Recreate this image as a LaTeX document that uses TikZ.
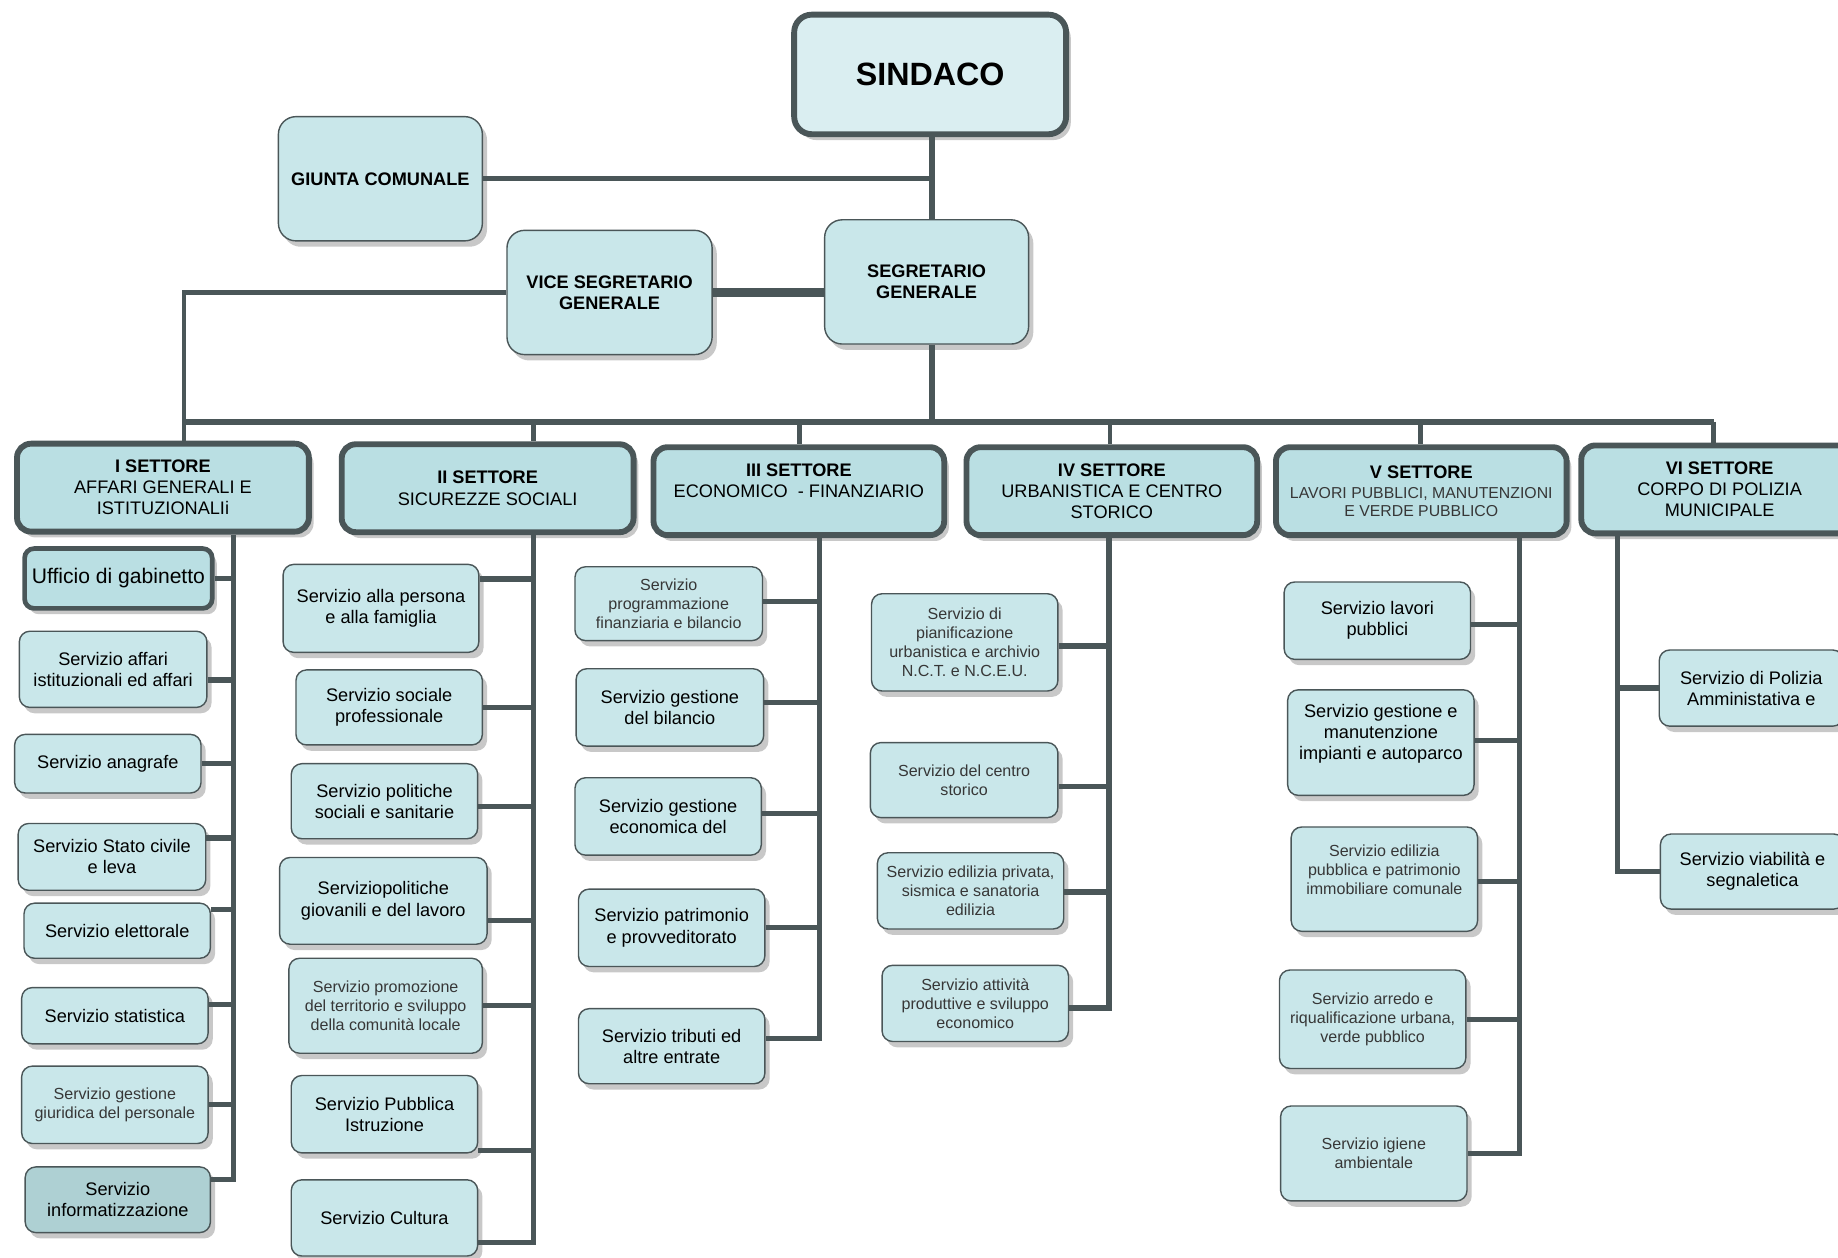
\documentclass[tikz,border=0pt]{standalone}
\usepackage{fontspec}
\setmainfont{Liberation Sans}
\usetikzlibrary{shadows}
\definecolor{linec}{RGB}{74,86,88}
\definecolor{subfill}{RGB}{201,231,234}
\definecolor{settfill}{RGB}{186,223,227}
\definecolor{topfill}{RGB}{218,238,241}
\definecolor{darkfill}{RGB}{174,208,211}
\definecolor{shadowc}{RGB}{200,200,200}
\definecolor{smalltext}{RGB}{55,55,55}
\begin{document}
\begin{tikzpicture}[x=1pt,y=-1pt,
  box/.style={draw=linec, line width=1.2pt, rounded corners=9pt, fill=subfill, align=center, inner sep=1pt,
    general shadow={fill=shadowc, shadow xshift=4pt, shadow yshift=-5pt}},
  svc/.style={box, font=\fontsize{15.5}{18}\selectfont},
  svcsm/.style={box, font=\fontsize{13.7}{16}\selectfont, text=smalltext},
  settbox/.style={box, line width=5pt, fill=settfill, rounded corners=12pt, minimum height=75pt, font=\fontsize{15.5}{18}\selectfont},
  topbox/.style={box, fill=subfill, rounded corners=15pt, font=\bfseries\fontsize{15.5}{18}\selectfont},
  link/.style={draw=linec, line width=4.5pt},
  sz/.style 2 args={minimum width=#1pt, minimum height=#2pt},
]
\useasboundingbox (0,0) rectangle (1568,1073);
\clip (0,0) rectangle (1568,1073);

% ---------- top level ----------
\node[topbox, line width=5pt, fill=topfill, sz={232}{102}, font=\bfseries\fontsize{27.5}{32}\selectfont] (sind) at (793.5,63.5) {SINDACO};
\node[topbox, sz={174}{106}] (giunta) at (324.5,152.5) {GIUNTA COMUNALE};
\node[topbox, sz={175}{106}] (vice) at (520,249.5) {VICE SEGRETARIO\\GENERALE};
\node[topbox, sz={174}{106}] (segr) at (790.5,240.5) {SEGRETARIO\\GENERALE};

% ---------- settori ----------
\node[settbox, minimum width=249pt] (s1) at (139,416) {\textbf{I SETTORE}\\AFFARI GENERALI E\\ISTITUZIONALIi};
\node[settbox, minimum width=249pt] (s2) at (416,416.5) {\textbf{II SETTORE}\\SICUREZZE SOCIALI};
\node[settbox, minimum width=248pt] (s3) at (681.5,419) {\textbf{III SETTORE}\\ECONOMICO\ \ - FINANZIARIO\\\mbox{}};
\node[settbox, minimum width=248pt] (s4) at (948.5,419) {\textbf{IV SETTORE}\\URBANISTICA E CENTRO\\STORICO};
\node[settbox, minimum width=248pt] (s5) at (1212.5,419) {\textbf{V SETTORE}\\[-1pt]{\fontsize{13.5}{16}\selectfont\color{smalltext}LAVORI PUBBLICI, MANUTENZIONI}\\[-2pt]{\fontsize{13.5}{16}\selectfont\color{smalltext}E VERDE PUBBLICO}};
\node[settbox, minimum width=236pt] (s6) at (1467,417.5) {\textbf{VI SETTORE}\\CORPO DI POLIZIA\\MUNICIPALE};

% ---------- I settore ----------
\node[svc, line width=4pt, fill=settfill, rounded corners=8pt, sz={160}{51}, font=\fontsize{18}{21}\selectfont] (c11) at (101,493.5) {Ufficio di gabinetto};
\node[svc, sz={160}{65}] (c12) at (96.5,571) {Servizio affari\\istituzionali ed affari};
\node[svc, sz={159}{50}] (c13) at (92,651.5) {Servizio anagrafe};
\node[svc, sz={160}{57}] (c14) at (95.5,731) {Servizio Stato civile\\e leva};
\node[svc, sz={159}{47}] (c15) at (100,794) {Servizio elettorale};
\node[svc, sz={159}{48}] (c16) at (98,866.5) {Servizio statistica};
\node[svcsm, sz={159}{66}] (c17) at (98,942.5) {Servizio gestione\\giuridica del personale};
\node[svc, fill=darkfill, sz={158}{56}] (c18) at (100.5,1023.5) {Servizio\\informatizzazione};

% ---------- II settore ----------
\node[svc, sz={167}{75}] (c21) at (325,519) {Servizio alla persona\\e alla famiglia};
\node[svc, sz={159}{64}] (c22) at (332,603.5) {Servizio sociale\\professionale};
\node[svc, sz={159}{64}] (c23) at (328,683.5) {Servizio politiche\\sociali e sanitarie};
\node[svc, sz={177}{74}] (c24) at (327,768.5) {Serviziopolitiche\\giovanili e del lavoro};
\node[svcsm, sz={165}{81}] (c25) at (329,858) {Servizio promozione\\del territorio e sviluppo\\della comunità locale};
\node[svc, sz={159}{66}] (c26) at (328,950.5) {Servizio Pubblica\\Istruzione};
\node[svc, sz={159}{65}] (c27) at (328,1039) {Servizio Cultura};

% ---------- III settore ----------
\node[svcsm, sz={160}{63}] (c31) at (570.5,515) {Servizio\\programmazione\\finanziaria e bilancio};
\node[svc, sz={160}{66}] (c32) at (571.5,603.5) {Servizio gestione\\del bilancio};
\node[svc, sz={159}{66}] (c33) at (570,696.5) {Servizio gestione\\economica del};
\node[svc, sz={159}{66}] (c34) at (573,791.5) {Servizio patrimonio\\e provveditorato};
\node[svc, sz={159}{64}] (c35) at (573,892.5) {Servizio tributi ed\\altre entrate};

% ---------- IV settore ----------
\node[svcsm, sz={159}{83}] (c41) at (823,548) {Servizio di\\pianificazione\\urbanistica e archivio\\N.C.T. e N.C.E.U.};
\node[svcsm, sz={160}{64}] (c42) at (822.5,665.5) {Servizio del centro\\storico};
\node[svcsm, sz={159}{65}] (c43) at (828,760) {Servizio edilizia privata,\\sismica e sanatoria\\edilizia};
\node[svcsm, sz={159}{65}] (c44) at (832,856) {Servizio attività\\produttive e sviluppo\\economico};

% ---------- V settore ----------
\node[svc, sz={159}{66}] (c51) at (1175,529.5) {Servizio lavori\\pubblici};
\node[svc, sz={159}{90}] (c52) at (1178,633.5) {Servizio gestione e\\manutenzione\\impianti e autoparco\\\mbox{}};
\node[svcsm, sz={159}{89}] (c53) at (1181,750) {Servizio edilizia\\pubblica e patrimonio\\immobiliare comunale\\\mbox{}};
\node[svcsm, sz={159}{84}] (c54) at (1171,869.5) {Servizio arredo e\\riqualificazione urbana,\\verde pubblico};
\node[svcsm, sz={159}{81}] (c55) at (1172,984) {Servizio igiene\\ambientale};

% ---------- VI settore ----------
\node[svc, sz={157}{65}] (c61) at (1494,587) {Servizio di Polizia\\Amministativa e};
\node[svc, sz={157}{64}] (c62) at (1495,743.5) {Servizio viabilità e\\segnaletica};

% ---------- coordinates ----------
\coordinate (tx) at (795,0);
\coordinate (b1) at (157,360);
\coordinate (b2) at (455,360);
\coordinate (b3) at (682,360);
\coordinate (b4) at (947,360);
\coordinate (b5) at (1212,360);
\coordinate (b6) at (1462,360);
\coordinate (t1) at (199,0);
\coordinate (t2) at (455,0);
\coordinate (t3) at (699,0);
\coordinate (t4) at (946,0);
\coordinate (t5) at (1296,0);
\coordinate (t6) at (1380,0);

% ---------- top connectors ----------
\draw[link] (sind.south -| tx) -- (segr.north -| tx);
\draw[link] (giunta.east) -- (giunta.east -| tx);
\draw[link, line width=7pt] (vice.east) -- (segr.west |- vice.east);
\draw[link, line width=4pt] (vice.west) -| (b1) -- (s1.north -| b1);
\draw[link] (segr.south -| tx) -- (tx |- b1);
\draw[link] (b1) -- (b6);
\foreach \k in {2,...,6} \draw[link, line width=4pt] (b\k) -- (s\k.north -| b\k);

% ---------- trunks ----------
\draw[link] (s1.south -| t1) |- ([yshift=17.5pt]c18.east);
\draw[link] (s2.south -| t2) |- ([yshift=-21pt]c27.east);
\draw[link] (s3.south -| t3) |- ([yshift=6.5pt]c35.east);
\draw[link] (s4.south -| t4) |- ([yshift=-4pt]c44.east);
\draw[link] (s5.south -| t5) |- (c55.east);
\draw[link] (s6.south -| t6) |- (c62.west);

% ---------- branches ----------
\draw[link] (c11.east) -- (c11.east -| t1);
\draw[link] ([yshift=-9pt]c12.east) -- ([yshift=-9pt]c12.east -| t1);
\draw[link] (c13.east) -- (c13.east -| t1);
\draw[link] ([yshift=16pt]c14.east) -- ([yshift=16pt]c14.east -| t1);
\draw[link] ([yshift=18pt]c15.east) -- ([yshift=18pt]c15.east -| t1);
\draw[link] ([yshift=9.5pt]c16.east) -- ([yshift=9.5pt]c16.east -| t1);
\draw[link] (c17.east) -- (c17.east -| t1);

\draw[link] ([yshift=25pt]c21.east) -- ([yshift=25pt]c21.east -| t2);
\draw[link] (c22.east) -- (c22.east -| t2);
\draw[link] ([yshift=-4.5pt]c23.east) -- ([yshift=-4.5pt]c23.east -| t2);
\draw[link] ([yshift=-16.5pt]c24.east) -- ([yshift=-16.5pt]c24.east -| t2);
\draw[link] (c25.east) -- (c25.east -| t2);
\draw[link] ([yshift=-31pt]c26.east) -- ([yshift=-31pt]c26.east -| t2);

\draw[link] ([yshift=2pt]c31.east) -- ([yshift=2pt]c31.east -| t3);
\draw[link] ([yshift=4.5pt]c32.east) -- ([yshift=4.5pt]c32.east -| t3);
\draw[link] ([yshift=2.5pt]c33.east) -- ([yshift=2.5pt]c33.east -| t3);
\draw[link] (c34.east) -- (c34.east -| t3);

\draw[link] ([yshift=-3pt]c41.east) -- ([yshift=-3pt]c41.east -| t4);
\draw[link] ([yshift=-5.5pt]c42.east) -- ([yshift=-5.5pt]c42.east -| t4);
\draw[link] ([yshift=-1pt]c43.east) -- ([yshift=-1pt]c43.east -| t4);

\draw[link] ([yshift=-3.5pt]c51.east) -- ([yshift=-3.5pt]c51.east -| t5);
\draw[link] ([yshift=1.5pt]c52.east) -- ([yshift=1.5pt]c52.east -| t5);
\draw[link] ([yshift=-2pt]c53.east) -- ([yshift=-2pt]c53.east -| t5);
\draw[link] (c54.east) -- (c54.east -| t5);

\draw[link] (c61.west) -- (c61.west -| t6);
\end{tikzpicture}
\end{document}
